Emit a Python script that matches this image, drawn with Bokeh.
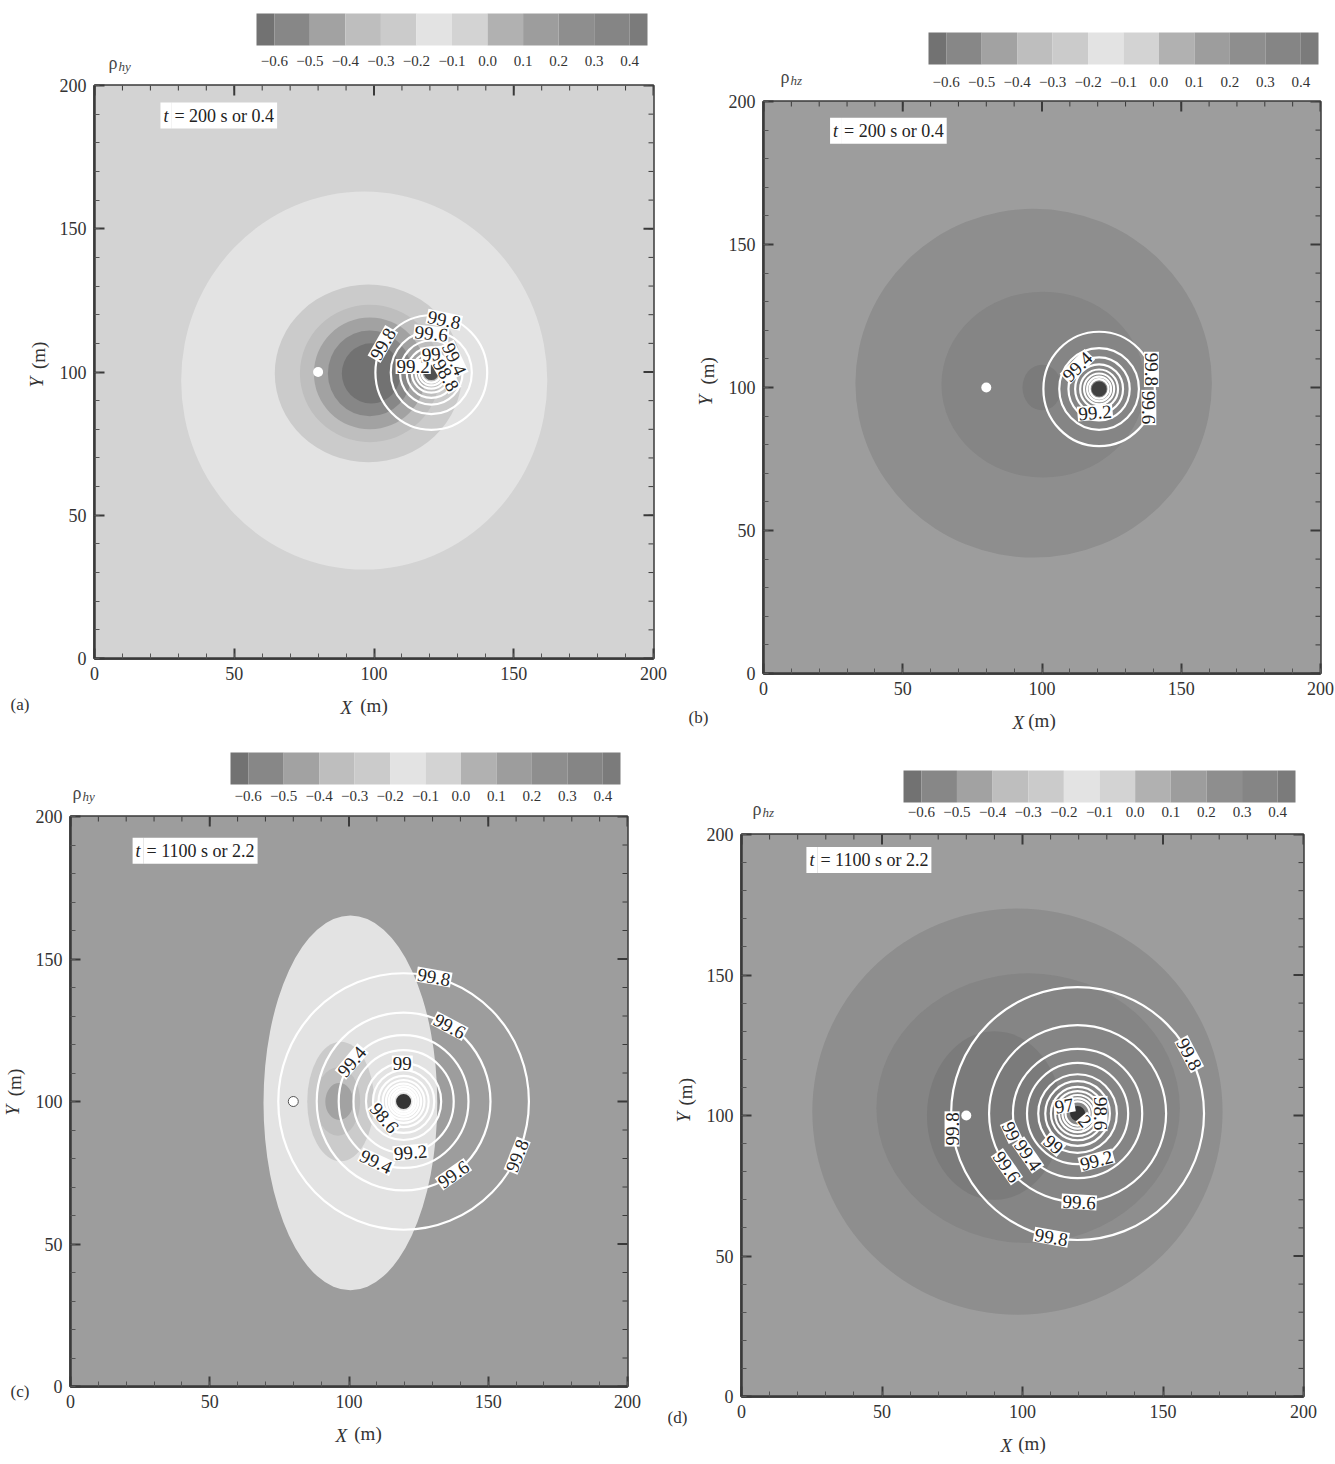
import math
from bokeh.plotting import figure
from bokeh.layouts import column, row
from bokeh.models import Range1d, FixedTicker, Label, Title
from bokeh.core.properties import value
from bokeh.embed import file_html
from bokeh.resources import INLINE

SERIF = "Liberation Serif"
NB = "\u00a0"

# ---------------- data ----------------
cbar_levels = [-0.6, -0.5, -0.4, -0.3, -0.2, -0.1, 0.0, 0.1, 0.2, 0.3, 0.4]
cbar_labels = ["\u22120.6", "\u22120.5", "\u22120.4", "\u22120.3", "\u22120.2", "\u22120.1",
               "0.0", "0.1", "0.2", "0.3", "0.4"]
cbar_low, cbar_high = -0.65, 0.45
palette = ["#727272", "#878787", "#a2a2a2", "#bebebe", "#cbcbcb", "#e3e3e3",
           "#d3d3d3", "#b1b1b1", "#9d9d9d", "#8e8e8e", "#858585", "#7b7b7b"]

axis_ticks = [0, 50, 100, 150, 200]
axis_minor = list(range(0, 201, 10))

receiver_x, receiver_y = [80], [100]

# panel (a): rho_hy, t = 200 s
a_bg = -0.05
a_band_val = [-0.15, -0.25, -0.35, -0.45, -0.55, -0.65]
a_band_cx = [96.5, 98.0, 98.5, 98.5, 98.5, 99.0]
a_band_cy = [97.0, 99.5, 99.5, 99.5, 99.5, 99.5]
a_band_rx = [65.5, 33.5, 25.0, 20.0, 15.0, 10.5]
a_band_ry = [66.0, 31.0, 24.0, 19.5, 15.0, 10.5]
a_src = (120.5, 99.8)
a_ring_r = [20.0, 14.5, 11.2, 8.8, 7.0, 5.6, 4.5, 3.5]
a_lab_text = ["99.8", "99.8", "99.6", "99.4", "99.2", "99", "98.8"]
a_lab_r = [20.0, 19.0, 13.6, 9.5, 6.8, 6.4, 5.4]
a_lab_deg = [150, 76, 90, 30, 162, 90, -10]
a_lab_rot = [60, -12, -6, -65, 0, 5, -60]

# panel (b): rho_hz, t = 200 s
b_bg = 0.15
b_band_val = [0.25, 0.35, 0.45]
b_band_cx = [97.0, 100.4, 100.0]
b_band_cy = [101.5, 101.0, 100.0]
b_band_rx = [64.0, 36.5, 7.0]
b_band_ry = [61.0, 32.5, 8.0]
b_src = (120.5, 99.5)
b_ring_r = [20.0, 14.3, 11.0, 8.6, 6.8, 5.4, 4.3, 3.4]
b_lab_text = ["99.8", "99.6", "99.4", "99.2"]
b_lab_r = [20.0, 19.0, 11.0, 8.4]
b_lab_deg = [20, -20, 135, -100]
b_lab_rot = [-90, -90, 45, 5]

# panel (c): rho_hy, t = 1100 s
c_bg = 0.15
c_band_val = [-0.15, -0.25, -0.35, -0.45]
c_band_cx = [100.5, 97.0, 96.0, 96.5]
c_band_cy = [99.5, 100.0, 100.0, 100.0]
c_band_rx = [31.2, 12.0, 8.0, 5.0]
c_band_ry = [65.8, 21.0, 12.0, 6.5]
c_src = (119.6, 100.0)
c_ring_r = [45.0, 31.2, 23.3, 18.0, 13.5, 11.0, 9.0, 7.5, 6.3, 5.3, 4.4, 3.6]
c_lab_text = ["99.8", "99.8", "99.6", "99.6", "99.4", "99.4", "99.2", "99", "98.6"]
c_lab_r = [45.0, 45.0, 31.2, 31.2, 23.3, 23.3, 18.0, 13.5, 9.0]
c_lab_deg = [76, -25, 58, -55, 143, -115, -82, 92, -140]
c_lab_rot = [-10, 68, -28, 35, 50, -25, 5, 0, -50]

# panel (d): rho_hz, t = 1100 s
d_bg = 0.15
d_band_val = [0.25, 0.35, 0.45]
d_band_cx = [98.2, 102.0, 90.0]
d_band_cy = [101.4, 102.6, 100.0]
d_band_rx = [73.0, 54.0, 24.0]
d_band_ry = [72.3, 48.0, 30.0]
d_src = (119.6, 100.7)
d_ring_r = [45.0, 31.5, 23.0, 18.0, 14.0, 11.5, 9.5, 8.0, 6.6, 5.4, 4.3]
d_lab_text = ["99.8", "99.8", "99.8", "99.6", "99.6", "99.4", "99", "99", "99.2", "98.6", "97", "2"]
d_lab_r = [45.0, 45.0, 45.0, 31.5, 31.5, 23.0, 24.5, 14.0, 18.0, 8.0, 5.5, 3.8]
d_lab_deg = [187, 28, -102, -89, -143, -140, -165, -128, -68, 0, 150, -45]
d_lab_rot = [90, -62, -10, -3, -55, -55, -65, -40, 15, -90, 10, -50]


def level_color(v):
    return palette[sum(1 for lv in cbar_levels if lv < v)]


# ---------------- helpers ----------------
def make_cbar(ml, fw, mr, H, bar_l, bar_r, bar_t, bar_b, lab_y, sub, rho_x, rho_y):
    """Colour bar drawn in a frame that spans the same columns as the panel frame."""
    s = (bar_r - bar_l) / (cbar_high - cbar_low)
    xl = cbar_low - bar_l / s
    xr = xl + fw / s
    p = figure(frame_width=fw, frame_height=H, min_border_left=ml, min_border_right=mr,
               min_border_top=0, min_border_bottom=0,
               x_range=Range1d(xl, xr), y_range=Range1d(H, 0),
               x_axis_location=None, y_axis_location=None,
               output_backend="svg", toolbar_location=None, tools="")
    edges = [cbar_low] + cbar_levels + [cbar_high]
    p.quad(left=edges[:-1], right=edges[1:], bottom=[bar_b] * 12, top=[bar_t] * 12,
           fill_color=palette, line_color=None)
    p.text(x=cbar_levels, y=[lab_y] * len(cbar_levels), text=cbar_labels,
           text_align="center", text_baseline="middle", text_font=value(SERIF),
           text_font_size=value("15px"), text_color="#333333")
    p.grid.visible = False
    p.outline_line_color = None
    p.add_layout(Label(x=rho_x, y=rho_y, x_units="screen", y_units="screen", text="\u03c1",
                       text_font=SERIF, text_font_size="18px", text_color="#444444",
                       text_baseline="alphabetic"))
    p.add_layout(Label(x=rho_x + 10, y=rho_y - 4, x_units="screen", y_units="screen", text=sub,
                       text_font=SERIF, text_font_style="italic", text_font_size="13px",
                       text_color="#444444", text_baseline="alphabetic"))
    return p


def style_axis(ax, title, standoff):
    ax.ticker = FixedTicker(ticks=axis_ticks, minor_ticks=axis_minor)
    ax.axis_line_color = "#3a3a3a"
    ax.axis_line_width = 2.5
    ax.major_tick_in = 10
    ax.major_tick_out = 0
    ax.major_tick_line_color = "#3a3a3a"
    ax.major_tick_line_width = 2
    ax.minor_tick_in = 5
    ax.minor_tick_out = 0
    ax.minor_tick_line_color = "#555555"
    ax.minor_tick_line_width = 1
    ax.major_label_standoff = 8
    ax.major_label_text_font = SERIF
    ax.major_label_text_font_size = "18px"
    ax.major_label_text_color = "#333333"
    ax.axis_label = title
    ax.axis_label_text_font = SERIF
    ax.axis_label_text_font_size = "19px"
    ax.axis_label_text_font_style = "normal"
    ax.axis_label_text_color = "#333333"
    ax.axis_label_standoff = standoff


def side_title(p, text, side, offset, standoff, valign, style="normal", size="19px"):
    p.add_layout(Title(text=text, align="left", offset=offset, standoff=standoff,
                       vertical_align=valign, text_font=SERIF, text_font_size=size,
                       text_font_style=style, text_color="#333333"), side)


def make_main(ml, fw, mr, mt, fh, mb, kx, ky, x_off, y_off, letter, letter_dx, letter_so):
    p = figure(frame_width=fw, frame_height=fh, min_border_left=ml, min_border_right=mr,
               min_border_top=mt, min_border_bottom=mb,
               x_range=Range1d(0, 200), y_range=Range1d(0, 200),
               output_backend="svg", toolbar_location=None, tools="")
    style_axis(p.xaxis[0], NB * kx + "(m)", 12)
    style_axis(p.yaxis[0], NB * ky + "(m)", 8)
    p.grid.visible = False
    p.outline_line_color = "#3a3a3a"
    p.outline_line_width = 2.5
    side_title(p, "X", "below", x_off, -44, "top", "italic")
    side_title(p, letter, "below", letter_dx, letter_so, "top", "normal", "17px")
    side_title(p, "Y", "left", y_off, -44, "bottom", "italic")
    return p


def mirror_ticks(p, fw, fh):
    ux, uy = 200.0 / fw, 200.0 / fh
    n, m = len(axis_ticks), len(axis_minor)
    kw = dict(line_color="#3a3a3a")
    p.segment(x0=axis_ticks, y0=[200] * n, x1=axis_ticks, y1=[200 - 10 * uy] * n, line_width=2, **kw)
    p.segment(x0=axis_minor, y0=[200] * m, x1=axis_minor, y1=[200 - 5 * uy] * m, line_width=1, **kw)
    p.segment(x0=[200] * n, y0=axis_ticks, x1=[200 - 10 * ux] * n, y1=axis_ticks, line_width=2, **kw)
    p.segment(x0=[200] * m, y0=axis_minor, x1=[200 - 5 * ux] * m, y1=axis_minor, line_width=1, **kw)


def draw_panel(p, fw, fh, bg, band_val, cx, cy, rx, ry, src, ring_r, lab_text, lab_r, lab_deg,
               lab_rot, src_color, rec_line):
    p.quad(left=[0], right=[200], bottom=[0], top=[200], fill_color=level_color(bg), line_color=None)
    p.ellipse(x=cx, y=cy, width=[2 * r for r in rx], height=[2 * r for r in ry],
              fill_color=[level_color(v) for v in band_val], line_color=None)
    mirror_ticks(p, fw, fh)
    n = len(ring_r)
    p.ellipse(x=[src[0]] * n, y=[src[1]] * n, width=[2 * r for r in ring_r],
              height=[2 * r for r in ring_r], fill_alpha=0, line_color="white", line_width=2.2)
    p.scatter(x=receiver_x, y=receiver_y, size=10, fill_color="white",
              line_color=rec_line, line_width=1)
    p.scatter(x=[src[0]], y=[src[1]], size=15, fill_color=src_color, line_color=None)
    for t, r, th, rot in zip(lab_text, lab_r, lab_deg, lab_rot):
        x = src[0] + r * math.cos(math.radians(th))
        y = src[1] + r * math.sin(math.radians(th))
        p.add_layout(Label(x=x, y=y, text=t, angle=rot, angle_units="deg",
                           text_align="center", text_baseline="middle",
                           background_fill_color="white", padding=1,
                           text_font=SERIF, text_font_size="19px", text_color="#222222"))


def time_label(p, tx, ty, rest):
    p.add_layout(Label(x=tx, y=ty, text="t", text_font=SERIF, text_font_style="italic",
                       text_font_size="18px", text_color="#222222", text_baseline="middle",
                       background_fill_color="white", padding=3))
    p.add_layout(Label(x=tx, y=ty, x_offset=11, text="= " + rest, text_font=SERIF,
                       text_font_size="18px", text_color="#222222", text_baseline="middle",
                       background_fill_color="white", padding=3))


# ---------------- panels (page pixels: frame edges etc.) ----------------
# (a)  frame x 94..653, y 85..658
cbA = make_cbar(94, 559, 35, 76, 162, 553, 13, 45, 60, "hy", 14, 14)
mA = make_main(94, 559, 35, 9, 573, 84, 0, 7, 246, 271, "(a)", -84, -48)
draw_panel(mA, 559, 573, a_bg, a_band_val, a_band_cx, a_band_cy, a_band_rx, a_band_ry, a_src,
           a_ring_r, a_lab_text, a_lab_r, a_lab_deg, a_lab_rot, "#505050", None)
time_label(mA, 23.6, 189.5, "200 s or 0.4")

# (b)  frame x 763..1320, y 101..673
cbB = make_cbar(75, 557, 15, 90, 165, 555, 32, 64, 81, "hz", 17, 14)
mB = make_main(75, 557, 15, 11, 572, 69, 0, 7, 249, 268, "(b)", -75, -52)
draw_panel(mB, 557, 572, b_bg, b_band_val, b_band_cx, b_band_cy, b_band_rx, b_band_ry, b_src,
           b_ring_r, b_lab_text, b_lab_r, b_lab_deg, b_lab_rot, "#404040", None)
time_label(mB, 23.9, 189.8, "200 s or 0.4")

# (c)  frame x 70..627, y 816..1386
cbC = make_cbar(70, 557, 41, 64, 160, 550, 10, 42, 53, "hy", 2, 14)
mC = make_main(70, 557, 41, 10, 570, 74, 8, 8, 265, 271, "(c)", -60, -130)
draw_panel(mC, 557, 570, c_bg, c_band_val, c_band_cx, c_band_cy, c_band_rx, c_band_ry, c_src,
           c_ring_r, c_lab_text, c_lab_r, c_lab_deg, c_lab_rot, "#333333", "#555555")
time_label(mC, 22.3, 188.0, "1100 s or 2.2")

# (d)  frame x 741..1303, y 834..1396
cbD = make_cbar(73, 562, 32, 82, 162, 554, 28, 60, 69, "hz", 11, 16)
mD = make_main(73, 562, 32, 10, 562, 64, 4, 10, 259, 274, "(d)", -74, -98)
draw_panel(mD, 562, 562, d_bg, d_band_val, d_band_cx, d_band_cy, d_band_rx, d_band_ry, d_src,
           d_ring_r, d_lab_text, d_lab_r, d_lab_deg, d_lab_rot, "#333333", None)
time_label(mD, 23.1, 190.9, "1100 s or 2.2")

layout = column(row(column(cbA, mA), column(cbB, mB)),
                row(column(cbC, mC), column(cbD, mD)))

open("out.html", "w").write(file_html(layout, INLINE))
